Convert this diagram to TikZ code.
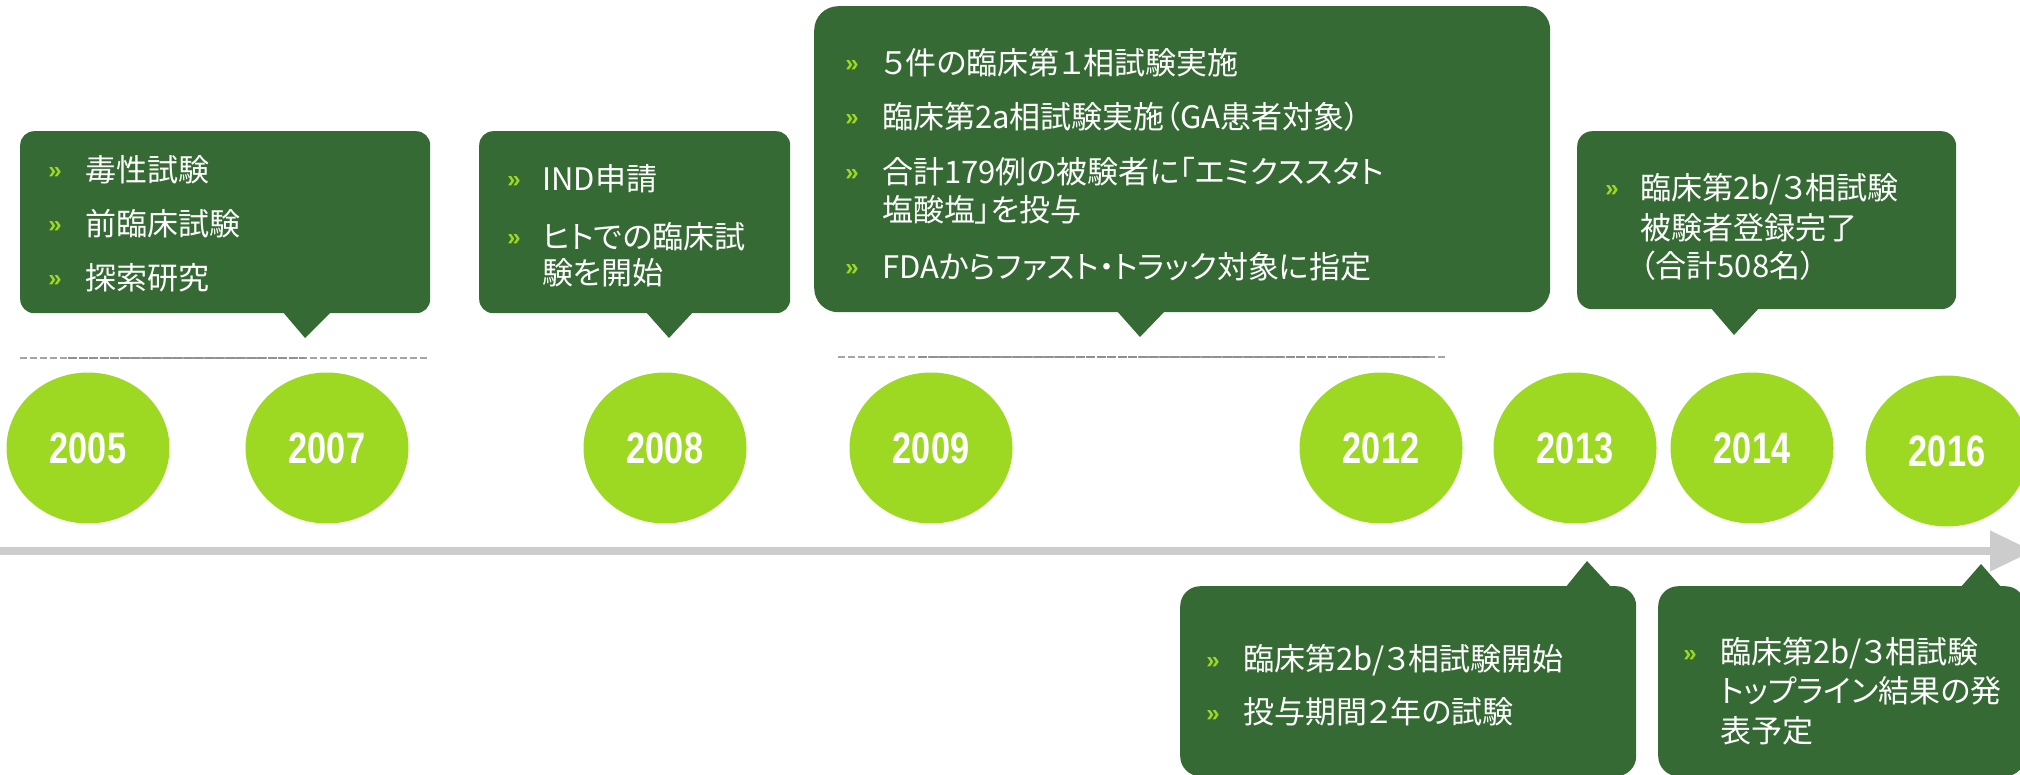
\documentclass[tikz,border=0pt]{standalone}
\usepackage{fontspec}
\usepackage{graphicx}
\usetikzlibrary{shapes.geometric,arrows.meta}
\newfontfamily\jpfont[RawFeature=+palt]{Noto Sans CJK JP}
\newfontfamily\latfont{Liberation Sans}
\definecolor{boxgreen}{RGB}{54,106,52}
\definecolor{lime}{RGB}{157,217,35}
\definecolor{barGray}{RGB}{204,204,204}
\definecolor{dashGray}{RGB}{165,165,165}
\definecolor{lineGray}{RGB}{145,145,145}
\tikzset{
  callout/.style={fill=boxgreen, draw=none, inner sep=0pt, anchor=north west},
  pointer/.style={fill=boxgreen, draw=none},
  yearell/.style={ellipse, fill=lime, draw=none, minimum width=163pt, minimum height=151pt,
    inner sep=0pt, text=white, font=\latfont\bfseries\fontsize{44}{44}\selectfont},
  bul/.style={anchor=base, inner sep=0pt, text=lime, font=\latfont\bfseries\fontsize{24}{24}\selectfont},
  txt/.style={anchor=west, inner sep=0pt, text=white, font=\jpfont\fontsize{31}{37}\selectfont,
    text height=24.8pt, text depth=1.2pt},
  dashline/.style={dashGray, line width=2.2pt, dash pattern=on 7pt off 3pt},
  midline/.style={lineGray, line width=2.2pt, dash pattern=on 9pt off 1.5pt},
}
\begin{document}
\begin{tikzpicture}[x=1pt,y=-1pt]
\useasboundingbox (0,0) rectangle (2020,775);
\clip (0,0) rectangle (2020,775);

% timeline bar
\coordinate (tlA) at (0,551);
\coordinate (tlB) at (2033,551);
\draw[barGray, line width=8pt, -{Triangle[length=43pt,width=39pt]}] (tlA) -- (tlB);

% dashed period lines
\coordinate (d1a) at (20,358); \coordinate (d1b) at (427,358);
\coordinate (d1c) at (68,358); \coordinate (d1d) at (305,358);
\draw[dashline] (d1a) -- (d1b);
\draw[midline] (d1c) -- (d1d);
\coordinate (d2a) at (838,357); \coordinate (d2b) at (1446,357);
\coordinate (d2c) at (918,357); \coordinate (d2d) at (1428,357);
\draw[dashline] (d2a) -- (d2b);
\draw[midline] (d2c) -- (d2d);

% year ellipses
\node[yearell] (y2005) at (88,448) {\scalebox{0.78}[1]{2005}};
\node[yearell] (y2007) at (327,448) {\scalebox{0.78}[1]{2007}};
\node[yearell] (y2008) at (665,448) {\scalebox{0.78}[1]{2008}};
\node[yearell] (y2009) at (931,448) {\scalebox{0.78}[1]{2009}};
\node[yearell] (y2012) at (1381,448) {\scalebox{0.78}[1]{2012}};
\node[yearell] (y2013) at (1575,448) {\scalebox{0.78}[1]{2013}};
\node[yearell] (y2014) at (1752,448) {\scalebox{0.78}[1]{2014}};
\node[yearell] (y2016) at (1947,451) {\scalebox{0.78}[1]{2016}};

% callout boxes
\node[callout, minimum width=410pt, minimum height=182pt, rounded corners=14pt] (b1) at (20,131) {};
\fill[pointer] (282,311) -- (305,338) -- (332,311) -- cycle;
\node[callout, minimum width=311pt, minimum height=182pt, rounded corners=14pt] (b2) at (479,131) {};
\fill[pointer] (645,311) -- (669,338) -- (694,311) -- cycle;
\node[callout, minimum width=736pt, minimum height=306pt, rounded corners=24pt] (b3) at (814,6) {};
\fill[pointer] (1116,310) -- (1140,337) -- (1166,310) -- cycle;
\node[callout, minimum width=379pt, minimum height=178pt, rounded corners=15pt] (b4) at (1577,131) {};
\fill[pointer] (1710,307) -- (1734,335) -- (1760,307) -- cycle;
\node[callout, minimum width=456pt, minimum height=190pt, rounded corners=20pt] (b5) at (1180,586) {};
\fill[pointer] (1565,588) -- (1587,561) -- (1612,588) -- cycle;
\node[callout, minimum width=367pt, minimum height=190pt, rounded corners=20pt] (b6) at (1658,586) {};
\fill[pointer] (1960,588) -- (1981,564) -- (2002,588) -- cycle;

% box 1 text
\node[bul] (b1m1) at (55,179) {»};
\node[txt] (b1t1) at (85,170) {毒性試験};
\node[bul] (b1m2) at (55,233) {»};
\node[txt] (b1t2) at (85,224) {前臨床試験};
\node[bul] (b1m3) at (55,287) {»};
\node[txt] (b1t3) at (85,278) {探索研究};

% box 2 text
\node[bul] (b2m1) at (514,188) {»};
\node[txt] (b2t1) at (542,179) {IND申請};
\node[bul] (b2m2) at (514,246) {»};
\node[txt] (b2t2) at (542,237) {ヒトでの臨床試};
\node[txt] (b2t3) at (542,273) {験を開始};

% box 3 text
\node[bul] (b3m1) at (852,72) {»};
\node[txt] (b3t1) at (882,63) {５件の臨床第１相試験実施};
\node[bul] (b3m2) at (852,126) {»};
\node[txt] (b3t2) at (882,117) {臨床第2a相試験実施（GA患者対象）};
\node[bul] (b3m3) at (852,181) {»};
\node[txt] (b3t3) at (882,172) {合計179例の被験者に「エミクススタト};
\node[txt] (b3t4) at (882,210) {塩酸塩」を投与};
\node[bul] (b3m4) at (852,276) {»};
\node[txt] (b3t5) at (882,267) {FDAからファスト・トラック対象に指定};

% box 4 text
\node[bul] (b4m1) at (1612,197) {»};
\node[txt] (b4t1) at (1640,188) {臨床第2b/３相試験};
\node[txt] (b4t2) at (1640,228) {被験者登録完了};
\node[txt] (b4t3) at (1640,266) {（合計508名）};

% box 5 text
\node[bul] (b5m1) at (1213,668) {»};
\node[txt] (b5t1) at (1243,659) {臨床第2b/３相試験開始};
\node[bul] (b5m2) at (1213,721) {»};
\node[txt] (b5t2) at (1243,712) {投与期間２年の試験};

% box 6 text
\node[bul] (b6m1) at (1690,661) {»};
\node[txt] (b6t1) at (1720,652) {臨床第2b/３相試験};
\node[txt] (b6t2) at (1720,691) {トップライン結果の発};
\node[txt] (b6t3) at (1720,731) {表予定};
\end{tikzpicture}
\end{document}
